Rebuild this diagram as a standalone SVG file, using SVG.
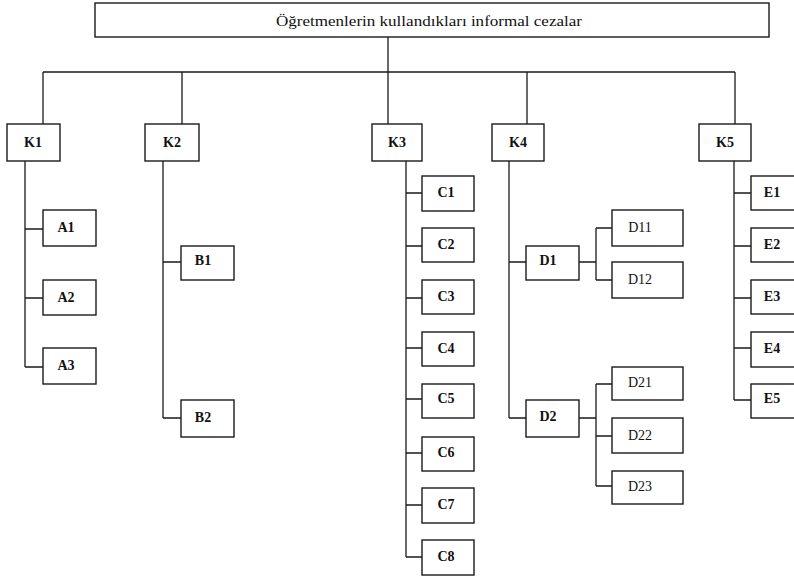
<svg xmlns="http://www.w3.org/2000/svg" width="794" height="579" viewBox="0 0 794 579">
<style>
rect{fill:#fff;stroke:#1a1a1a;stroke-width:1.4}
.c path{fill:none;stroke:#1a1a1a;stroke-width:1.3}
text{font-family:"Liberation Serif","Times New Roman",serif;font-size:14px;fill:#111;text-anchor:middle}
.b{font-weight:bold}
</style>
<rect width="794" height="579" style="fill:#fff;stroke:none"/>
<g class="c" id="connectors">
<path d="M388 37V124M43 72H735M43 72V124M182 72V124M527 72V124M735 72V124"/>
<path d="M25 161V367M25 229H43M25 298H43M25 367H43"/>
<path d="M163 161V418M163 262H181M163 418H181"/>
<path d="M406 161V557M406 193H422M406 246H422M406 298H422M406 348H422M406 399H422M406 453H422M406 505H422M406 557H422"/>
<path d="M509 161V418M509 262H526M509 418H526"/>
<path d="M579 262H596M596 228V280M596 228H612M596 280H612"/>
<path d="M579 418H596M596 384V486M596 384H612M596 436H612M596 486H612"/>
<path d="M734 161V400M734 193H751M734 246H751M734 298H751M734 348H751M734 400H751"/>
</g>
<g id="root"><rect x="95" y="3" width="674" height="34"/><text x="429" y="26" style="font-size:15px" textLength="306" lengthAdjust="spacingAndGlyphs">Öğretmenlerin kullandıkları informal cezalar</text></g>
<g id="K1"><rect x="7" y="124" width="53" height="37"/><text class="b" x="33" y="147">K1</text></g>
<g id="K2"><rect x="145" y="124" width="54" height="37"/><text class="b" x="172" y="147">K2</text></g>
<g id="K3"><rect x="372" y="124" width="50" height="37"/><text class="b" x="397" y="147">K3</text></g>
<g id="K4"><rect x="492" y="124" width="52" height="37"/><text class="b" x="518" y="147">K4</text></g>
<g id="K5"><rect x="699" y="124" width="52" height="37"/><text class="b" x="725" y="147">K5</text></g>
<g id="A1"><rect x="43" y="210" width="53" height="36"/><text class="b" x="66" y="232">A1</text></g>
<g id="A2"><rect x="43" y="280" width="53" height="35"/><text class="b" x="66" y="302">A2</text></g>
<g id="A3"><rect x="43" y="348" width="53" height="36"/><text class="b" x="66" y="370">A3</text></g>
<g id="B1"><rect x="181" y="246" width="53" height="34"/><text class="b" x="203" y="265">B1</text></g>
<g id="B2"><rect x="181" y="400" width="53" height="37"/><text class="b" x="203" y="422">B2</text></g>
<g id="C1"><rect x="422" y="176" width="52" height="35"/><text class="b" x="446" y="197">C1</text></g>
<g id="C2"><rect x="422" y="228" width="52" height="34"/><text class="b" x="446" y="249">C2</text></g>
<g id="C3"><rect x="422" y="280" width="52" height="34"/><text class="b" x="446" y="301">C3</text></g>
<g id="C4"><rect x="422" y="332" width="52" height="34"/><text class="b" x="446" y="353">C4</text></g>
<g id="C5"><rect x="422" y="384" width="52" height="34"/><text class="b" x="446" y="403">C5</text></g>
<g id="C6"><rect x="422" y="437" width="52" height="34"/><text class="b" x="446" y="457">C6</text></g>
<g id="C7"><rect x="422" y="488" width="52" height="35"/><text class="b" x="446" y="509">C7</text></g>
<g id="C8"><rect x="422" y="540" width="52" height="35"/><text class="b" x="446" y="561">C8</text></g>
<g id="D1"><rect x="526" y="246" width="53" height="34"/><text class="b" x="548" y="265">D1</text></g>
<g id="D2"><rect x="526" y="400" width="53" height="37"/><text class="b" x="548" y="421">D2</text></g>
<g id="D11"><rect x="612" y="210" width="71" height="36"/><text x="640" y="232">D11</text></g>
<g id="D12"><rect x="612" y="262" width="71" height="36"/><text x="640" y="284">D12</text></g>
<g id="D21"><rect x="612" y="367" width="71" height="33"/><text x="640" y="387">D21</text></g>
<g id="D22"><rect x="612" y="418" width="71" height="35"/><text x="640" y="440">D22</text></g>
<g id="D23"><rect x="612" y="471" width="71" height="33"/><text x="640" y="491">D23</text></g>
<g id="E1"><rect x="751" y="176" width="53" height="34"/><text class="b" x="772" y="197">E1</text></g>
<g id="E2"><rect x="751" y="228" width="53" height="34"/><text class="b" x="772" y="249">E2</text></g>
<g id="E3"><rect x="751" y="280" width="53" height="34"/><text class="b" x="772" y="301">E3</text></g>
<g id="E4"><rect x="751" y="332" width="53" height="35"/><text class="b" x="772" y="353">E4</text></g>
<g id="E5"><rect x="751" y="384" width="53" height="34"/><text class="b" x="772" y="403">E5</text></g>
</svg>
